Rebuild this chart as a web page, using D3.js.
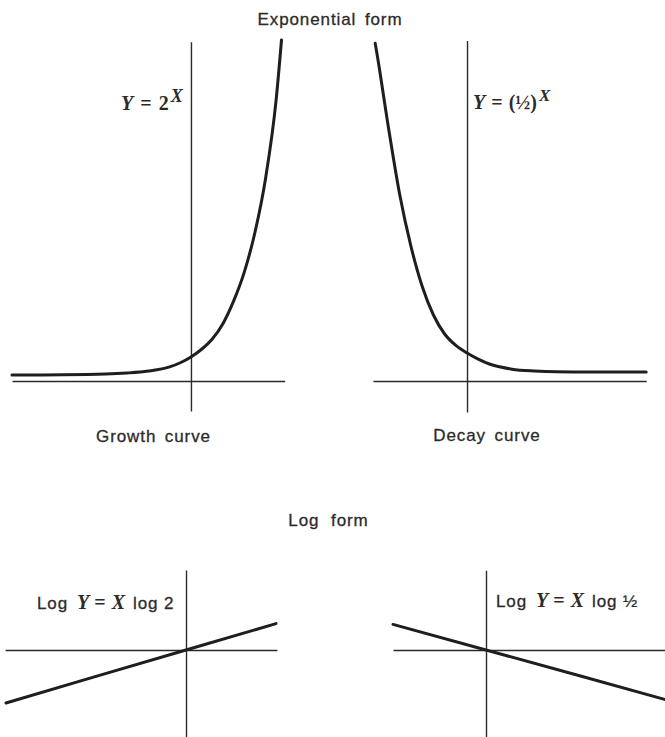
<!DOCTYPE html>
<html>
<head>
<meta charset="utf-8">
<script src="https://cdn.jsdelivr.net/npm/d3@7"></script>
<style>
  body { margin: 0; background: #fff; }
  svg { display: block; }
  .lbl { font-family: "Liberation Sans", Arial, sans-serif; font-size: 17px; fill: #2b2b2b; stroke: #2b2b2b; stroke-width: 0.3px; letter-spacing: 0.9px; word-spacing: 3px; }
  .eq { font-family: "Liberation Serif", "Times New Roman", serif; font-size: 20px; font-weight: bold; fill: #2b2b2b; }
  .eq .it { font-style: italic; }
  .eq .sans { font-family: "Liberation Sans", Arial, sans-serif; font-weight: normal; font-size: 17px; letter-spacing: 0.9px; stroke: #2b2b2b; stroke-width: 0.3px; }
  .axis path { stroke: #2a2a2a; stroke-width: 1.4px; }
  .curve { fill: none; stroke: #1e1e1e; stroke-width: 3px; stroke-linecap: round; }
</style>
</head>
<body>
<div id="chart"></div>
<script>
// values
// growth curve Y = 2^X
var growthX = [-8.4, -6, -4, -3, -2, -1, -0.5, 0, 0.5, 1, 1.5, 2, 2.5, 3, 3.5, 4, 4.25];
var growthY = [0, 0.01, 0.05, 0.11, 0.22, 0.45, 0.68, 1, 1.43, 2.0, 2.85, 4.1, 5.7, 7.9, 10.9, 15.3, 18.6];
// decay curve Y = (1/2)^X
var decayX = [-4.1, -4, -3.5, -3, -2.5, -2, -1.5, -1, -0.5, 0, 0.5, 1, 2, 3, 4, 6, 8];
var decayY = [17.3, 16.6, 12.8, 9.3, 6.6, 4.5, 3.0, 2.0, 1.4, 1.0, 0.68, 0.42, 0.15, 0.05, 0.01, 0, 0];
// log form lines
var logGrowthX = [-6, -3, 0, 3];
var logGrowthY = [-1.81, -0.90, 0, 0.90];
var logDecayX = [-3.1, 0, 3, 6.2];
var logDecayY = [0.93, 0, -0.90, -1.87];

var W = 665, H = 737;

var svg = d3.select('#chart')
  .append('svg')
    .attr('width', W)
    .attr('height', H);

function zip(xs, ys) { return xs.map((x, i) => ({x: x, y: ys[i]})); }

/*
 * one panel: scales, two bare axes, one thick curve
 */
function panel(p) {
  var x = d3.scaleLinear().domain(p.xDom).range(p.xRange);
  var y = d3.scaleLinear().domain(p.yDom).range(p.yRange);

  var xa = x.copy().domain(p.xAxis).range(p.xAxis.map(x));
  var ya = y.copy().domain(p.yAxis).range(p.yAxis.map(y));

  svg.append('g')
      .attr('class', 'axis')
      .attr('transform', 'translate(0,' + (y(0) + p.gap) + ')')
      .call(d3.axisBottom(xa).tickValues([]).tickSizeOuter(0));

  svg.append('g')
      .attr('class', 'axis')
      .attr('transform', 'translate(' + x(0) + ',0)')
      .call(d3.axisLeft(ya).tickValues([]).tickSizeOuter(0));

  var line = d3.line()
      .x(d => x(d.x))
      .y(d => y(d.y))
      .curve(p.smooth ? d3.curveMonotoneX : d3.curveLinear);

  svg.append('path')
      .datum(zip(p.xs, p.ys))
      .attr('class', 'curve')
      .attr('d', line);
}

panel({xs: growthX, ys: growthY, smooth: true,
  xDom: [-8.4, 4.25], xRange: [12, 281.5], yDom: [0, 18.6], yRange: [375, 40],
  xAxis: [-8.4, 4.4], yAxis: [-2, 18.5], gap: 6});

panel({xs: decayX, ys: decayY, smooth: true,
  xDom: [-4.1, 8], xRange: [375.2, 646.2], yDom: [0, 17.3], yRange: [372, 43.3],
  xAxis: [-4.2, 8], yAxis: [-2.1, 17.45], gap: 9});

panel({xs: logGrowthX, ys: logGrowthY, smooth: false,
  xDom: [-6, 3], xRange: [6, 276], yDom: [0, 1], yRange: [650, 620.7],
  xAxis: [-6.03, 3.03], yAxis: [-3.0, 2.73], gap: 0});

panel({xs: logDecayX, ys: logDecayY, smooth: false,
  xDom: [-3.1, 6.2], xRange: [393, 672], yDom: [0, 1], yRange: [650, 622.5],
  xAxis: [-3.1, 6.2], yAxis: [-3.2, 2.9], gap: 0});

/*
 * texts
 */
function label(txt, x, y, ws) {
  var t = svg.append('text').attr('class', 'lbl')
    .attr('x', x).attr('y', y)
    .attr('text-anchor', 'middle')
    .text(txt);
  if (ws) t.style('word-spacing', ws + 'px');
}
label('Exponential form', 330, 25);
label('Growth curve', 153.5, 442);
label('Decay curve', 487, 441);
label('Log form', 328.5, 526, 6);

function eq(x, y, parts) {
  var t = svg.append('text').attr('class', 'eq').attr('x', x).attr('y', y);
  parts.forEach(function(p) {
    var s = t.append('tspan').text(p.t);
    if (p.c) s.attr('class', p.c);
    if (p.dx) s.attr('dx', p.dx);
    if (p.dy) s.attr('dy', p.dy);
    if (p.fs) s.style('font-size', p.fs + 'px');
  });
}

eq(121, 110, [
  {t: 'Y', c: 'it'}, {t: '=', dx: 7}, {t: '2', dx: 7},
  {t: 'X', c: 'it', dy: -8, dx: 2, fs: 18}
]);
eq(473, 109, [
  {t: 'Y', c: 'it'}, {t: '=', dx: 6}, {t: '(½)', dx: 6},
  {t: 'X', c: 'it', dy: -8, dx: 2, fs: 17}
]);
eq(37, 609, [
  {t: 'Log', c: 'sans'}, {t: 'Y', c: 'it', dx: 9}, {t: '=', dx: 5},
  {t: 'X', c: 'it', dx: 6}, {t: 'log 2', c: 'sans', dx: 8}
]);
eq(496, 607, [
  {t: 'Log', c: 'sans'}, {t: 'Y', c: 'it', dx: 9}, {t: '=', dx: 5},
  {t: 'X', c: 'it', dx: 6}, {t: 'log ½', c: 'sans', dx: 8}
]);
</script>
</body>
</html>
